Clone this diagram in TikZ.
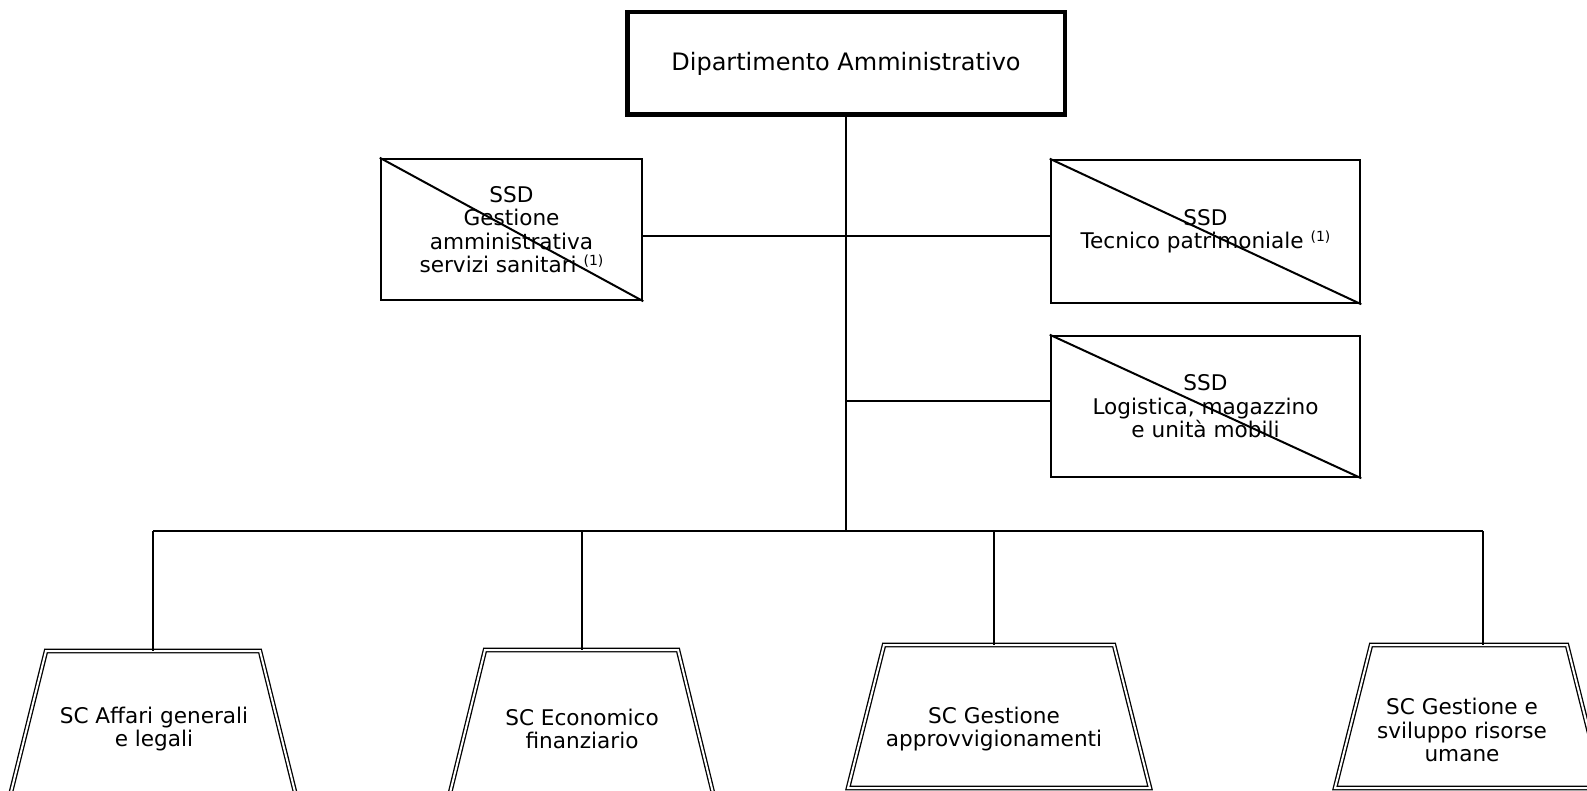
\documentclass[tikz,border=0pt]{standalone}
\usepackage{fontspec}
\setmainfont{DejaVu Sans}
\newcommand{\supone}{\ \raisebox{0.6ex}{\fontsize{14}{14}\selectfont(1)}}
\begin{document}
\begin{tikzpicture}[x=1pt,y=-1pt,
  lbl/.style={align=center, font=\fontsize{21.6}{23.4}\selectfont, inner sep=0pt},
  conn/.style={line width=2pt},
  ssdbox/.style={draw, line width=2.5pt, inner sep=0pt, align=center, font=\fontsize{21.6}{23.4}\selectfont},
  topbox/.style={draw, line width=4.5pt, inner sep=0pt, font=\fontsize{24}{28}\selectfont},
  trap/.style={double, line width=1.3pt, double distance=2pt}]
\path[use as bounding box, clip] (0,0) rectangle (1587,791);
\fill[white] (0,0) rectangle (1587,791);

% top box
\node[topbox, minimum width=437.5pt, minimum height=102.5pt] (top) at (846,63.5) {Dipartimento Amministrativo};

% SSD boxes
\node[ssdbox, minimum width=261pt, minimum height=141pt] (l) at (511.5,229.5)
  {SSD\\Gestione\\amministrativa\\servizi sanitari\supone};
\draw[line width=2pt] (l.north west) -- (l.south east);
\node[ssdbox, minimum width=309pt, minimum height=143pt] (r1) at (1205.5,231.5)
  {SSD\\Tecnico patrimoniale\supone};
\draw[line width=2pt] (r1.north west) -- (r1.south east);
\node[ssdbox, minimum width=309pt, minimum height=141pt] (r2) at (1205.5,406.5)
  {SSD\\Logistica, magazzino\\e unità mobili};
\draw[line width=2pt] (r2.north west) -- (r2.south east);

% junctions
\coordinate (j1) at (846,236);
\coordinate (j2) at (846,401);
\coordinate (bus) at (846,531);
\coordinate (b1) at (153,531);
\coordinate (b2) at (582,531);
\coordinate (b3) at (994,531);
\coordinate (b4) at (1483,531);
\coordinate (t1) at (153,651);
\coordinate (t2) at (582,650);
\coordinate (t3) at (994,645);
\coordinate (t4) at (1483,645);

% trapezoids
\draw[trap] (9.5,798) -- (46,651) -- (260,651) -- (296.5,798);
\draw[trap] (449,797) -- (485,650) -- (678,650) -- (714,797);
\draw[trap] (848,788) -- (884,645) -- (1114,645) -- (1150,788) -- cycle;
\draw[trap] (1335,788) -- (1371,645) -- (1567,645) -- (1603,788) -- cycle;

\node[lbl] (s1) at (154,729) {SC Affari generali\\e legali};
\node[lbl] (s2) at (582,729) {SC Economico\\finanziario};
\node[lbl] (s3) at (994,729) {SC Gestione\\approvvigionamenti};
\node[lbl] (s4) at (1462,730) {SC Gestione e\\sviluppo risorse\\umane};

% connectors
\draw[conn] (top.south) -- (bus);
\draw[conn] (j1) -- (j1 -| l.east);
\draw[conn] (j1) -- (j1 -| r1.west);
\draw[conn] (j2) -- (j2 -| r2.west);
\draw[conn] (b1) -- (b4);
\draw[conn] (b1) -- (t1);
\draw[conn] (b2) -- (t2);
\draw[conn] (b3) -- (t3);
\draw[conn] (b4) -- (t4);
\end{tikzpicture}
\end{document}
